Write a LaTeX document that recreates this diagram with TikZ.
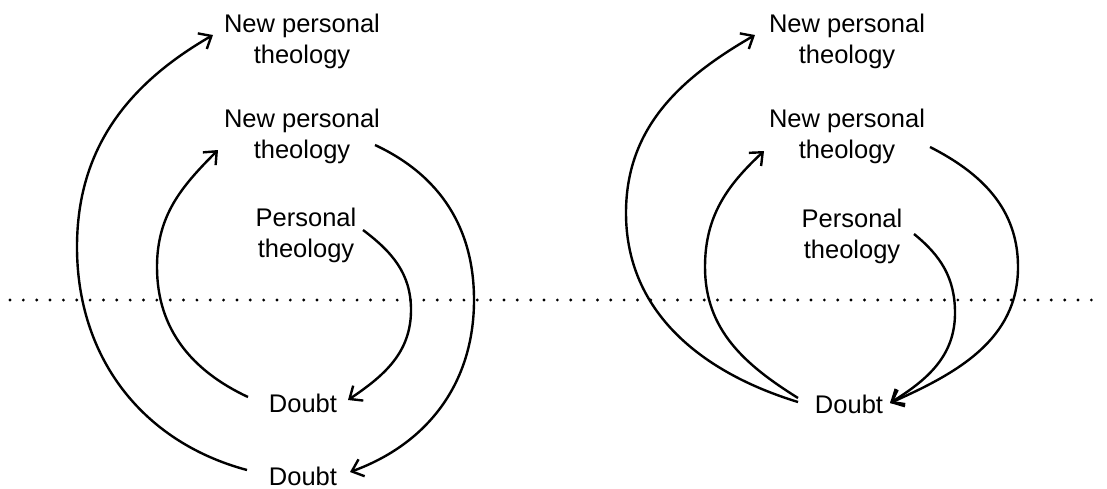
\documentclass[tikz,border=0pt]{standalone}
\usepackage{fontspec}
\setmainfont{Liberation Sans}
\usetikzlibrary{arrows.meta}
\begin{document}
\begin{tikzpicture}[x=1pt,y=1pt,
  lbl/.style={font=\fontsize{25.5}{31}\selectfont, align=center, inner sep=0pt},
  arc/.style={line width=2.4pt, -{Straight Barb[length=10.5pt,width=18pt,line width=2.4pt]}},
  dotline/.style={line width=3.2pt, dash pattern=on 0pt off 13.35pt, line cap=round}]
\useasboundingbox (0,-488) rectangle (1107,0);
% left panel
\node[lbl] (nt1) at (302,-41) {New personal\\theology};
\node[lbl] (nm1) at (302,-136) {New personal\\theology};
\node[lbl] (pt1) at (306,-235) {Personal\\theology};
\node[lbl] (da1) at (303,-403) {Doubt};
\node[lbl] (db1) at (303,-476.5) {Doubt};
% right panel
\node[lbl] (nt2) at (847,-41) {New personal\\theology};
\node[lbl] (nm2) at (847,-136) {New personal\\theology};
\node[lbl] (pt2) at (852,-236) {Personal\\theology};
\node[lbl] (d2) at (849,-404) {Doubt};
% dotted line
\draw[dotline] (10,-300) -- (1103,-300);
% left arrows
\draw[arc] ([shift={(-56,6.5)}]db1.center) to[out=165,in=-90] (77,-247) to[out=90,in=210] ([shift={(-89,6)}]nt1.center);
\draw[arc] ([shift={(-55,6)}]da1.center) to[out=155,in=-90] (157,-267) to[out=90,in=225] ([shift={(-84,-14)}]nm1.center);
\draw[arc] ([shift={(73,-9)}]nm1.center) to[out=-25,in=90] (474,-300) to[out=-90,in=20] ([shift={(47,4.5)}]db1.center);
\draw[arc] ([shift={(57,5)}]pt1.center) to[out=-37,in=90] (411,-310) to[out=-90,in=34] ([shift={(45,3)}]da1.center);
% right arrows
\draw[arc] ([shift={(-51,2)}]d2.center) to[out=163,in=-90] (626,-213) to[out=90,in=210] ([shift={(-92,6)}]nt2.center);
\draw[arc] ([shift={(-51,6)}]d2.center) to[out=148,in=-90] (705,-267) to[out=90,in=223] ([shift={(-83,-15)}]nm2.center);
\draw[arc] ([shift={(83,-11)}]nm2.center) to[out=-27,in=90] (1018,-267) to[out=-90,in=24] ([shift={(41,1)}]d2.center);
\draw[arc] ([shift={(62,2)}]pt2.center) to[out=-39,in=90] (955,-313) to[out=-90,in=32] ([shift={(41,1)}]d2.center);
\end{tikzpicture}
\end{document}
